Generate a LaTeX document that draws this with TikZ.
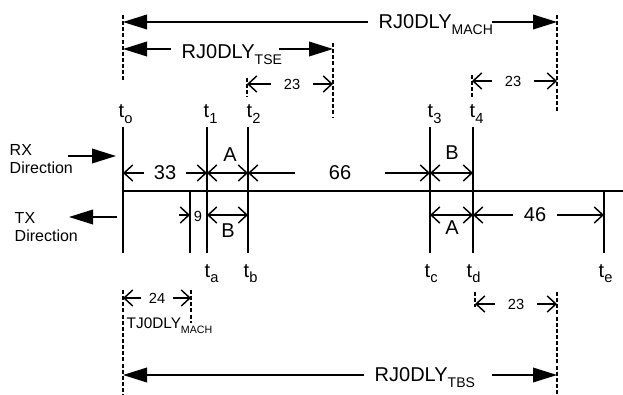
\documentclass[tikz,border=0pt]{standalone}
\usepackage{fontspec}
\setmainfont{Liberation Sans}
\usetikzlibrary{arrows.meta}
\newcommand{\lowsub}[2][10.5]{\raisebox{-4pt}[0pt][0pt]{\fontsize{#1}{#1}\selectfont #2}}

\tikzset{every picture/.style={line width=1.1pt}}
\tikzset{
  dashln/.style={line width=0.9pt, dash pattern={on 3pt off 1.6pt}},
  bigarrow/.style={-{Triangle[length=18pt,width=11pt]}},
  barb/.style={-{Straight Barb[length=6.5pt,width=12pt]}},
  barbs/.style={{Straight Barb[length=6.5pt,width=12pt]}-{Straight Barb[length=6.5pt,width=12pt]}},
  namelbl/.style={font=\fontsize{15}{18}\selectfont, inner xsep=7.5pt, inner ysep=0pt, anchor=west},
  numlbl/.style={font=\fontsize{15}{18}\selectfont, inner ysep=0pt},
  smalllbl/.style={font=\fontsize{11}{13}\selectfont, inner xsep=9pt, inner ysep=0pt},
  tlbl/.style={font=\fontsize{15}{18}\selectfont, inner sep=0pt, anchor=base west},
  dirtxt/.style={font=\fontsize{12}{13.5}\selectfont, align=left, inner sep=0pt, anchor=west}
}

\begin{document}
\begin{tikzpicture}[x=0.75pt,y=0.75pt,yscale=-1,xscale=1]
\useasboundingbox (0,0) rectangle (623,395);

%Dashed Lines (top)
\draw [dashln] (123,15) -- (123,80) ;
\draw [dashln] (557,15) -- (557,113) ;
\draw [dashln] (333,43) -- (333,118) ;
\draw [dashln] (247,78) -- (247,97) ;
\draw [dashln] (472,75) -- (472,97) ;

% RJ0DLY MACH
\coordinate (mach0) at (123,22) ;
\coordinate (mach1) at (557,22) ;
\node [namelbl] (mach) at (368,22) {RJ0DLY\rlap{\lowsub{MACH}}};
\draw [bigarrow] (mach.west) -- (mach0) ;
\draw [bigarrow] ([xshift=22]mach.east) -- (mach1) ;

% RJ0DLY TSE
\coordinate (tse0) at (123,49) ;
\coordinate (tse1) at (333,49) ;
\node [namelbl] (tse) at (171,52) {RJ0DLY\rlap{\lowsub{TSE}}};
\draw [bigarrow] (tse0 -| tse.west) -- (tse0) ;
\draw [bigarrow] ([xshift=10]tse1 -| tse.east) -- (tse1) ;

% 23 (top left / top right)
\coordinate (tl0) at (247,84) ;
\coordinate (tl1) at (333,84) ;
\node [smalllbl] (tsel) at (292,84) {23};
\draw [barb] (tsel.west) -- (tl0) ;
\draw [barb] (tsel.east) -- (tl1) ;
\coordinate (tr0) at (472,81) ;
\coordinate (tr1) at (557,81) ;
\node [smalllbl] (machl) at (513,81) {23};
\draw [barb] (machl.west) -- (tr0) ;
\draw [barb] (machl.east) -- (tr1) ;

% Text Node (t labels, top)
\node [tlbl] (to) at (118,118) {t\lowsub[11]{o}};
\node [tlbl] (t1) at (203,118) {t\lowsub[11]{1}};
\node [tlbl] (t2) at (246,118) {t\lowsub[11]{2}};
\node [tlbl] (t3) at (427,118) {t\lowsub[11]{3}};
\node [tlbl] (t4) at (469,118) {t\lowsub[11]{4}};

%Straight Lines (ticks)
\draw (123,127) -- (123,253) ;
\draw (207,127) -- (207,253) ;
\draw (248,127) -- (248,253) ;
\draw (430,127) -- (430,253) ;
\draw (473,127) -- (473,253) ;
\draw (190,191) -- (190,253) ;
\draw (604,191) -- (604,253) ;
\draw (123,191) -- (623,191) ;

% RX / TX direction
\node [dirtxt] (rx) at (9,159) {RX\\Direction};
\node [dirtxt] (tx) at (14,227) {TX\\Direction};
\coordinate (rxa) at (68,156) ;
\coordinate (rxb) at (116,156) ;
\coordinate (txa) at (117,217) ;
\coordinate (txb) at (69,217) ;
\draw [bigarrow] (rxa) -- (rxb) ;
\draw [bigarrow] (txa) -- (txb) ;

% upper dimension line
\coordinate (u0) at (123,173) ;
\coordinate (u1) at (207,173) ;
\coordinate (u2) at (248,173) ;
\coordinate (u3) at (430,173) ;
\coordinate (u4) at (473,173) ;
\node [numlbl, inner xsep=6.5pt] (n33) at (165,173) {33};
\node [numlbl, inner xsep=25pt] (n66) at (340,173) {66};
\draw [barb] (n33.west) -- (u0) ;
\draw [barb] (n33.east) -- (u1) ;
\draw [barbs] (u1) -- (u2) ;
\draw [barb] (n66.west) -- (u2) ;
\draw [barb] (n66.east) -- (u3) ;
\draw [barbs] (u3) -- (u4) ;
\node [numlbl] (ua) at (230,155) {A};
\node [numlbl] (ub) at (452,153) {B};

% lower dimension line
\coordinate (l9) at (179,215) ;
\coordinate (la) at (190,215) ;
\coordinate (lb1) at (207,215) ;
\coordinate (lb2) at (248,215) ;
\coordinate (lc) at (430,215) ;
\coordinate (ld) at (473,215) ;
\coordinate (le) at (604,215) ;
\node [numlbl, inner xsep=7.5pt] (n46) at (535,215) {46};
\draw [barb] (l9) -- (la) ;
\draw [barbs] (lb1) -- (lb2) ;
\draw [barbs] (lc) -- (ld) ;
\draw [barb] (n46.west) -- (ld) ;
\draw [barb] (n46.east) -- (le) ;
\node [font=\fontsize{11}{13}\selectfont, inner sep=0pt] (n9) at (198,216) {9};
\node [numlbl] (lbb) at (228,231) {B};
\node [numlbl] (lba) at (452,228) {A};

% Text Node (t labels, bottom)
\node [tlbl] (ta) at (204,277) {t\lowsub[11]{a}};
\node [tlbl] (tb) at (243,277) {t\lowsub[11]{b}};
\node [tlbl] (tc) at (424,277) {t\lowsub[11]{c}};
\node [tlbl] (td) at (466,277) {t\lowsub[11]{d}};
\node [tlbl] (te) at (598,277) {t\lowsub[11]{e}};

%Dashed Lines (bottom)
\draw [dashln] (123,290) -- (123,395) ;
\draw [dashln] (191,290) -- (191,323) ;
\draw [dashln] (475,292) -- (475,307) ;
\draw [dashln] (557,292) -- (557,395) ;

% 24 / TJ0DLY MACH
\coordinate (tj0) at (123,298) ;
\coordinate (tj1) at (191,298) ;
\node [smalllbl, inner xsep=5pt] (n24) at (157,298) {24};
\draw [barb] (n24.west) -- (tj0) ;
\draw [barb] (n24.east) -- (tj1) ;
\node [font=\fontsize{11.5}{13}\selectfont, inner sep=0pt, anchor=west] (tj) at (126,323) {TJ0DLY\lowsub[8]{MACH}};

% 23 (bottom)
\coordinate (bl0) at (475,304) ;
\coordinate (bl1) at (557,304) ;
\node [smalllbl] (tbsl) at (516,304) {23};
\draw [barb] (tbsl.west) -- (bl0) ;
\draw [barb] (tbsl.east) -- (bl1) ;

% RJ0DLY TBS
\coordinate (tbs0) at (123,375) ;
\coordinate (tbs1) at (557,375) ;
\node [namelbl] (tbs) at (364,375) {RJ0DLY\rlap{\lowsub{TBS}}};
\draw [bigarrow] (tbs.west) -- (tbs0) ;
\draw [bigarrow] ([xshift=25]tbs.east) -- (tbs1) ;
\end{tikzpicture}
\end{document}
